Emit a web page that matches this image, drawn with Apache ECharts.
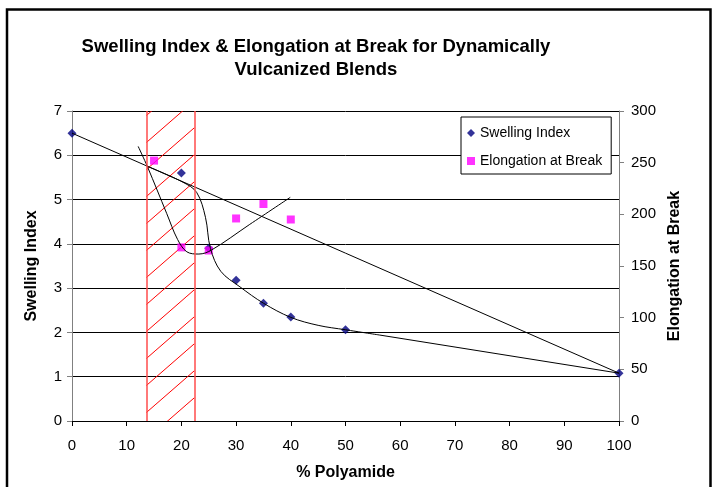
<!DOCTYPE html>
<html>
<head>
<meta charset="utf-8">
<script src="https://cdn.jsdelivr.net/npm/echarts@6/dist/echarts.min.js"></script>
<style>
  html, body { margin: 0; padding: 0; background: #fff; }
  #chart { width: 720px; height: 487px; }
</style>
</head>
<body>
<div id="chart"></div>
<script>
// ---- data ----
const titleText = 'Swelling Index & Elongation at Break for Dynamically\nVulcanized Blends';
const xTicks = [0, 10, 20, 30, 40, 50, 60, 70, 80, 90, 100];
const swellingPolyamide = [0, 20, 25, 30, 35, 40, 50, 100];
const swellingIndex = [6.5, 5.6, 3.9, 3.18, 2.66, 2.35, 2.06, 1.08];
const elongPolyamide = [15, 20, 25, 30, 35, 40];
const elongation = [252, 168, 165, 196, 210, 195];
// hand-drawn lines (polyamide %, swelling-index units)
const straightLine = [[0, 6.5], [100, 1.08]];
const curveA = [[12.1, 6.2], [13.8, 5.74], [17.3, 4.69], [19.3, 4.1], [21.0, 3.82], [23.2, 3.77], [25.5, 3.86], [32.5, 4.44], [39.9, 5.05]];
const curveB = [[14, 5.74], [20.3, 5.39], [22.8, 5.16], [24.4, 4.6], [25.3, 3.9], [27.2, 3.38], [30.7, 3.03], [35, 2.66], [40, 2.34], [45, 2.16], [50, 2.06], [56.3, 1.94]];
const curveBTail = [[56.3, 1.94], [100, 1.08]];
const hatchRange = [13.6, 22.35];

const FONT = 'Liberation Sans, Arial, sans-serif';

function makeHatch() {
  const w = 31, h = 27;
  const c = document.createElement('canvas');
  c.width = w; c.height = h;
  const ctx = c.getContext('2d');
  ctx.strokeStyle = '#ff0000';
  ctx.lineWidth = 1;
  ctx.beginPath();
  ctx.moveTo(0, h); ctx.lineTo(w, 0);
  ctx.moveTo(-w, h); ctx.lineTo(0, 0);
  ctx.moveTo(0, 2 * h); ctx.lineTo(2 * w, 0);
  ctx.stroke();
  return c;
}

const chart = echarts.init(document.getElementById('chart'), null, { renderer: 'canvas' });

const blackLine = { color: '#000', width: 1 };

const option = {
  backgroundColor: '#fff',
  animation: false,
  title: {
    text: titleText,
    left: 311,
    top: 30,
    textAlign: 'center',
    textStyle: { fontFamily: FONT, fontSize: 18.5, fontWeight: 'bold', color: '#000', lineHeight: 23 }
  },
  legend: {
    orient: 'vertical',
    left: 461,
    top: 117,
    padding: [8, 9, 5, 6],
    itemGap: 12,
    itemWidth: 8,
    itemHeight: 8,
    borderColor: '#000',
    borderWidth: 1,
    backgroundColor: '#fff',
    textStyle: { fontFamily: FONT, fontSize: 14, color: '#000', lineHeight: 16 },
    data: [
      { name: 'Swelling Index', icon: 'diamond' },
      { name: 'Elongation at Break', icon: 'rect' }
    ]
  },
  grid: { left: 72, right: 101, top: 111, bottom: 66 },
  xAxis: {
    type: 'value',
    min: 0, max: 100, interval: 10,
    name: '% Polyamide',
    nameLocation: 'middle',
    nameGap: 44,
    nameMoveOverlap: false,
    nameTextStyle: { fontFamily: FONT, fontSize: 16, fontWeight: 'bold', color: '#000' },
    axisLine: { show: true, onZero: false, lineStyle: { color: '#000', width: 1 } },
    axisTick: { show: true, inside: false, length: 5, lineStyle: { color: '#000' } },
    axisLabel: { fontFamily: FONT, fontSize: 15, color: '#000', margin: 17,
      customValues: xTicks },
    splitLine: { show: false }
  },
  yAxis: [
    {
      type: 'value',
      min: 0, max: 7, interval: 1,
      name: 'Swelling Index',
      nameLocation: 'middle',
      nameGap: 32,
      nameMoveOverlap: false,
      nameTextStyle: { fontFamily: FONT, fontSize: 16, fontWeight: 'bold', color: '#000' },
      axisLine: { show: true, lineStyle: { color: '#808080', width: 1 } },
      axisTick: { show: true, inside: false, length: 5, lineStyle: { color: '#808080' } },
      axisLabel: { fontFamily: FONT, fontSize: 15, color: '#000', margin: 10 },
      splitLine: { show: true, lineStyle: { color: '#000', width: 1 } }
    },
    {
      type: 'value',
      min: 0, max: 300, interval: 50,
      position: 'right',
      name: 'Elongation at Break',
      nameLocation: 'middle',
      nameGap: 48,
      nameMoveOverlap: false,
      nameTextStyle: { fontFamily: FONT, fontSize: 16, fontWeight: 'bold', color: '#000' },
      axisLine: { show: true, lineStyle: { color: '#808080', width: 1 } },
      axisTick: { show: true, inside: false, length: 5, lineStyle: { color: '#808080' } },
      axisLabel: { fontFamily: FONT, fontSize: 15, color: '#000', margin: 12 },
      splitLine: { show: false }
    }
  ],
  graphic: [
    {
      type: 'rect',
      shape: { x: 7, y: 9.5, width: 703.5, height: 490 },
      style: { fill: null, stroke: '#000', lineWidth: 2.5 },
      silent: true,
      z: 100
    }
  ],
  series: [
    {
      name: 'hatch',
      type: 'line',
      data: [],
      silent: true,
      markArea: {
        silent: true,
        itemStyle: { color: { image: makeHatch(), repeat: 'repeat' }, borderWidth: 0 },
        data: [[{ xAxis: hatchRange[0], yAxis: 0 }, { xAxis: hatchRange[1], yAxis: 7 }]]
      },
      markLine: {
        silent: true,
        symbol: 'none',
        label: { show: false },
        lineStyle: { color: '#ff4d4d', width: 1.5, type: 'solid' },
        data: [{ xAxis: hatchRange[0] }, { xAxis: hatchRange[1] }]
      }
    },
    { name: 'trend', type: 'line', data: straightLine, showSymbol: false, silent: true, lineStyle: blackLine },
    { name: 'curveA', type: 'line', data: curveA, showSymbol: false, silent: true, smooth: 0.35, lineStyle: blackLine },
    { name: 'curveB', type: 'line', data: curveB, showSymbol: false, silent: true, smooth: 0.35, lineStyle: blackLine },
    { name: 'curveBTail', type: 'line', data: curveBTail, showSymbol: false, silent: true, lineStyle: blackLine },
    {
      name: 'Swelling Index',
      type: 'scatter',
      yAxisIndex: 0,
      symbol: 'diamond',
      symbolSize: 9,
      itemStyle: { color: '#000080' },
      data: swellingPolyamide.map((x, i) => [x, swellingIndex[i]])
    },
    {
      name: 'Elongation at Break',
      type: 'scatter',
      yAxisIndex: 1,
      symbol: 'rect',
      symbolSize: 8,
      itemStyle: { color: '#ff00ff' },
      data: elongPolyamide.map((x, i) => [x, elongation[i]])
    }
  ]
};

chart.setOption(option);
</script>
</body>
</html>
